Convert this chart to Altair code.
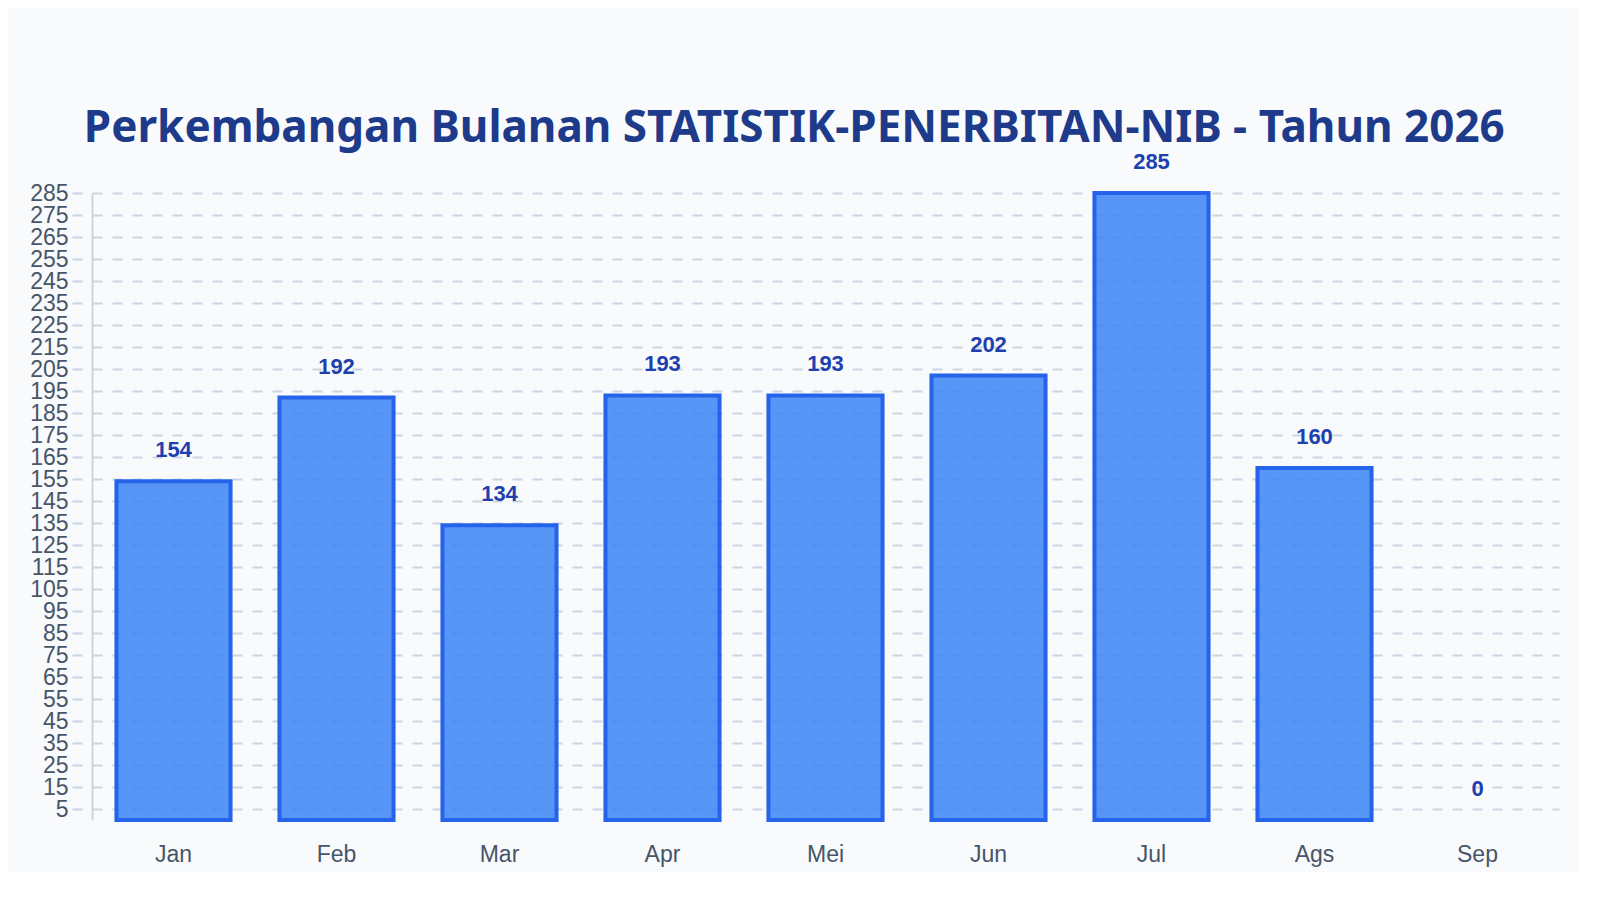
import altair as alt
import pandas as pd

MONTHS = ["Jan", "Feb", "Mar", "Apr", "Mei", "Jun", "Jul", "Ags", "Sep"]
COUNTS = [154, 192, 134, 193, 193, 202, 285, 160, 0]
Y_TICKS = list(range(5, 290, 10))

TITLE = "Perkembangan Bulanan STATISTIK-PENERBITAN-NIB - Tahun 2026"


def build_chart():
    df = pd.DataFrame({"Bulan": MONTHS, "Jumlah": COUNTS})

    x = alt.X(
        "Bulan:N",
        sort=MONTHS,
        title=None,
        scale=alt.Scale(paddingInner=0.3, paddingOuter=0.15),
        axis=alt.Axis(
            labelAngle=0,
            labelFont="Liberation Sans",
            labelFontSize=23,
            labelColor="#475569",
            labelPadding=23,
            ticks=False,
            domain=False,
        ),
    )
    y = alt.Y(
        "Jumlah:Q",
        title=None,
        scale=alt.Scale(domain=[0, 285], nice=False),
        axis=alt.Axis(
            values=Y_TICKS,
            labelOverlap=False,
            labelFont="Liberation Sans",
            labelFontSize=23,
            labelColor="#475569",
            labelPadding=4,
            tickSize=20,
            tickColor="#cbd5e1",
            tickWidth=2,
            tickDash=[10, 10],
            tickDashOffset=10,
            grid=True,
            gridColor="#cbd5e1",
            gridWidth=2,
            gridDash=[10, 10],
            domainColor="#cbd5e1",
            domainWidth=2,
        ),
    )

    # a zero month gets no bar, only its label
    bars = (
        alt.Chart(df)
        .mark_bar(
            color="#3b82f6",
            fillOpacity=0.85,
            stroke="#2563eb",
            strokeWidth=4,
        )
        .encode(x=x, y=y)
        .transform_filter(alt.datum.Jumlah > 0)
    )

    labels = (
        alt.Chart(df)
        .mark_text(
            dy=-31,
            baseline="middle",
            font="Liberation Sans",
            fontSize=22,
            fontWeight="bold",
            color="#1e40af",
        )
        .encode(x=x, y=y, text="Jumlah:Q")
    )

    chart = (
        alt.layer(bars, labels)
        .properties(
            width=1467,
            height=627,
            background="#f8fafc",
            padding={"left": 21, "top": 99, "right": 20, "bottom": 6},
            title=alt.TitleParams(
                TITLE,
                font="Noto Sans",
                fontSize=44,
                fontWeight="bold",
                color="#1e3a8a",
                anchor="middle",
                frame="bounds",
                offset=0,
            ),
        )
        .configure_view(stroke=None)
        .configure_axis(labelOverlap=False)
    )
    return chart


chart = build_chart()
chart.save("out.html", embed_options={"renderer": "svg", "actions": False})
